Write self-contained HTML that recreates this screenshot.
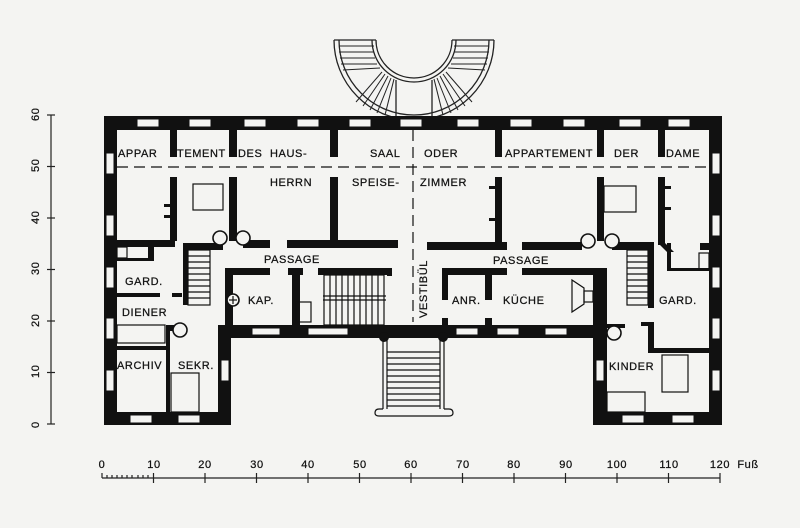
<!DOCTYPE html>
<html><head><meta charset="utf-8"><style>
html,body{margin:0;padding:0;background:#f4f4f2;}
svg{display:block;}
text{font-family:"Liberation Sans",sans-serif;font-size:11px;fill:#111;letter-spacing:0.6px;stroke:#111;stroke-width:0.25px;}
</style></head><body>
<svg width="800" height="528" viewBox="0 0 800 528" xmlns="http://www.w3.org/2000/svg">
<rect width="800" height="528" fill="#f4f4f2"/>
<g stroke="#222" stroke-width="1.2">
<line x1="51" y1="115" x2="51" y2="424"/>
<line x1="47" y1="115" x2="55" y2="115"/><line x1="47" y1="166.5" x2="55" y2="166.5"/><line x1="47" y1="218" x2="55" y2="218"/>
<line x1="47" y1="269.5" x2="55" y2="269.5"/><line x1="47" y1="321" x2="55" y2="321"/><line x1="47" y1="372.5" x2="55" y2="372.5"/><line x1="47" y1="424" x2="55" y2="424"/>
</g>
<g font-size="11">
<text transform="translate(39,121) rotate(-90)">60</text>
<text transform="translate(39,172) rotate(-90)">50</text>
<text transform="translate(39,224) rotate(-90)">40</text>
<text transform="translate(39,275) rotate(-90)">30</text>
<text transform="translate(39,327) rotate(-90)">20</text>
<text transform="translate(39,378) rotate(-90)">10</text>
<text transform="translate(39,428) rotate(-90)">0</text>
</g>
<g stroke="#222" stroke-width="1.2">
<line x1="102" y1="478" x2="720" y2="478"/>
<line x1="102" y1="473" x2="102" y2="478"/>
<line x1="107" y1="475" x2="107" y2="478"/><line x1="112" y1="475" x2="112" y2="478"/><line x1="117" y1="475" x2="117" y2="478"/><line x1="122" y1="475" x2="122" y2="478"/><line x1="127" y1="475" x2="127" y2="478"/><line x1="132" y1="475" x2="132" y2="478"/><line x1="138" y1="475" x2="138" y2="478"/><line x1="143" y1="475" x2="143" y2="478"/><line x1="148" y1="475" x2="148" y2="478"/>
<line x1="153.5" y1="473" x2="153.5" y2="483"/><line x1="205" y1="473" x2="205" y2="483"/><line x1="256.5" y1="473" x2="256.5" y2="483"/><line x1="308" y1="473" x2="308" y2="483"/><line x1="359.5" y1="473" x2="359.5" y2="483"/><line x1="411" y1="473" x2="411" y2="483"/><line x1="462.5" y1="473" x2="462.5" y2="483"/><line x1="514" y1="473" x2="514" y2="483"/><line x1="565.5" y1="473" x2="565.5" y2="483"/><line x1="617" y1="473" x2="617" y2="483"/><line x1="668.5" y1="473" x2="668.5" y2="483"/><line x1="720" y1="473" x2="720" y2="483"/>
</g>
<g font-size="11" text-anchor="middle">
<text x="102" y="468">0</text><text x="154" y="468">10</text><text x="205" y="468">20</text><text x="257" y="468">30</text><text x="308" y="468">40</text><text x="360" y="468">50</text><text x="411" y="468">60</text><text x="463" y="468">70</text><text x="514" y="468">80</text><text x="566" y="468">90</text><text x="617" y="468">100</text><text x="669" y="468">110</text><text x="720" y="468">120</text>
<text x="748" y="468">Fuß</text>
</g>
<g fill="none" stroke="#222" stroke-width="1.3">
<path d="M334 40 A80 80 0 0 0 494 40"/>
<path d="M339 40 A75 75 0 0 0 489 40"/>
<path d="M376 40 A38 38 0 0 0 452 40"/>
<path d="M372 40 A42 42 0 0 0 456 40"/>
<line x1="334" y1="40" x2="376" y2="40"/><line x1="452" y1="40" x2="494" y2="40"/>
<line x1="396" y1="80" x2="396" y2="116"/><line x1="432" y1="80" x2="432" y2="116"/>
<g stroke-width="1">
<line x1="339" y1="46" x2="374" y2="46"/><line x1="339" y1="52" x2="374" y2="52"/><line x1="340" y1="58" x2="375" y2="58"/><line x1="341" y1="64" x2="377" y2="64"/><line x1="343" y1="70" x2="380" y2="68"/>
<line x1="454" y1="46" x2="489" y2="46"/><line x1="454" y1="52" x2="489" y2="52"/><line x1="453" y1="58" x2="488" y2="58"/><line x1="451" y1="64" x2="487" y2="64"/><line x1="448" y1="68" x2="485" y2="70"/>
<line x1="382" y1="72" x2="356" y2="102"/><line x1="385" y1="74" x2="363" y2="106"/><line x1="388" y1="76" x2="370" y2="110"/><line x1="391" y1="78" x2="377" y2="113"/><line x1="394" y1="79" x2="385" y2="115"/>
<line x1="446" y1="72" x2="472" y2="102"/><line x1="443" y1="74" x2="465" y2="106"/><line x1="440" y1="76" x2="458" y2="110"/><line x1="437" y1="78" x2="451" y2="113"/><line x1="434" y1="79" x2="443" y2="115"/>
</g></g>
<g fill="#111">
<rect x="104" y="116" width="618" height="14"/>
<rect x="104" y="116" width="13" height="309"/>
<rect x="709" y="116" width="13" height="309"/>
<rect x="104" y="412" width="127" height="13"/>
<rect x="593" y="412" width="129" height="13"/>
<rect x="218" y="325" width="13" height="100"/>
<rect x="593" y="268" width="14" height="157"/>
<rect x="218" y="325" width="389" height="13"/>
</g>
<g fill="#f4f4f2" stroke="#111" stroke-width="1">
<rect x="137" y="119" width="22" height="8"/><rect x="189" y="119" width="22" height="8"/><rect x="244" y="119" width="22" height="8"/><rect x="297" y="119" width="22" height="8"/><rect x="349" y="119" width="22" height="8"/><rect x="400" y="119" width="22" height="8"/><rect x="457" y="119" width="22" height="8"/><rect x="510" y="119" width="22" height="8"/><rect x="563" y="119" width="22" height="8"/><rect x="619" y="119" width="22" height="8"/><rect x="668" y="119" width="22" height="8"/>
<rect x="106" y="153" width="8" height="21"/><rect x="106" y="215" width="8" height="21"/><rect x="106" y="267" width="8" height="21"/><rect x="106" y="318" width="8" height="21"/><rect x="106" y="370" width="8" height="21"/>
<rect x="712" y="153" width="8" height="21"/><rect x="712" y="215" width="8" height="21"/><rect x="712" y="267" width="8" height="21"/><rect x="712" y="318" width="8" height="21"/><rect x="712" y="370" width="8" height="21"/>
<rect x="221" y="360" width="8" height="21"/><rect x="130" y="415" width="22" height="8"/><rect x="178" y="415" width="22" height="8"/>
<rect x="596" y="360" width="8" height="21"/><rect x="622" y="415" width="22" height="8"/><rect x="672" y="415" width="22" height="8"/>
<rect x="252" y="328" width="28" height="7"/><rect x="308" y="328" width="40" height="7"/><rect x="456" y="328" width="22" height="7"/><rect x="497" y="328" width="22" height="7"/><rect x="545" y="328" width="22" height="7"/>
</g>
<g fill="#111">
<rect x="170" y="130" width="7" height="27"/><rect x="170" y="177" width="7" height="64"/>
<rect x="229" y="130" width="8" height="27"/><rect x="229" y="177" width="8" height="64"/>
<rect x="330" y="130" width="8" height="27"/><rect x="330" y="177" width="8" height="68"/>
<rect x="495" y="130" width="7" height="27"/><rect x="495" y="177" width="7" height="68"/>
<rect x="597" y="130" width="7" height="27"/><rect x="597" y="177" width="7" height="64"/>
<rect x="658" y="130" width="7" height="27"/><rect x="658" y="177" width="7" height="66"/>
<rect x="117" y="240" width="58" height="7"/>
<rect x="148" y="240" width="6" height="20"/><rect x="117" y="258" width="37" height="3"/>
<rect x="188" y="243" width="35" height="7"/>
<rect x="183" y="243" width="5" height="62"/>
<rect x="243" y="240" width="27" height="8"/>
<rect x="287" y="240" width="111" height="8"/>
<rect x="225" y="268" width="45" height="7"/>
<rect x="225" y="268" width="8" height="62"/>
<rect x="288" y="268" width="15" height="7"/><rect x="292" y="268" width="8" height="58"/>
<rect x="318" y="268" width="69" height="7"/>
<rect x="117" y="293" width="43" height="4"/><rect x="172" y="293" width="10" height="4"/>
<rect x="117" y="346" width="52" height="4"/><rect x="166" y="325" width="4" height="87"/>
<rect x="168" y="325" width="6" height="6"/>
<rect x="427" y="242" width="80" height="8"/><rect x="522" y="242" width="60" height="8"/>
<rect x="612" y="242" width="38" height="8"/><rect x="648" y="242" width="6" height="66"/>
<rect x="442" y="268" width="65" height="7"/><rect x="522" y="268" width="85" height="7"/>
<rect x="442" y="268" width="6" height="32"/><rect x="485" y="268" width="7" height="32"/>
<rect x="442" y="318" width="6" height="10"/><rect x="485" y="318" width="7" height="10"/>
<rect x="658" y="237" width="7" height="8"/><path d="M658 243 L665 243 L674 252 L667 252 Z"/>
<rect x="667" y="243" width="4" height="28"/><rect x="667" y="268" width="42" height="3"/>
<rect x="700" y="243" width="9" height="7"/>
<rect x="648" y="322" width="6" height="31"/><rect x="648" y="348" width="61" height="5"/>
<rect x="641" y="322" width="10" height="4"/>
<rect x="607" y="324" width="18" height="4"/>
<rect x="389" y="240" width="9" height="8"/>
<rect x="387" y="268" width="5" height="8"/>
<rect x="164" y="204" width="6" height="3"/><rect x="164" y="215" width="6" height="3"/>
<rect x="489" y="186" width="6" height="3"/><rect x="489" y="218" width="6" height="3"/>
<rect x="665" y="186" width="6" height="3"/><rect x="665" y="207" width="6" height="3"/>
<circle cx="384" cy="337" r="5"/><circle cx="443" cy="337" r="5"/>
</g>
<g fill="#f4f4f2" stroke="#111" stroke-width="1.6">
<circle cx="220" cy="238" r="7"/><circle cx="243" cy="238" r="7"/>
<circle cx="588" cy="241" r="7"/><circle cx="612" cy="241" r="7"/>
<circle cx="180" cy="330" r="7"/><circle cx="614" cy="333" r="7"/>
<circle cx="233" cy="300" r="6"/>
</g>
<g fill="none" stroke="#111" stroke-width="1.2">
<line x1="117" y1="167" x2="706" y2="167" stroke-dasharray="11 6"/>
<line x1="413" y1="130" x2="413" y2="322" stroke-dasharray="11 6"/>
<rect x="193" y="184" width="30" height="26"/>
<rect x="604" y="186" width="32" height="26"/>
<rect x="117" y="325" width="48" height="18"/>
<rect x="171" y="373" width="28" height="39"/>
<rect x="662" y="355" width="26" height="37"/>
<rect x="607" y="392" width="38" height="20"/>
<rect x="117" y="247" width="10" height="11"/>
<rect x="699" y="253" width="10" height="17"/>
<rect x="296" y="302" width="15" height="20"/>
<rect x="188" y="250" width="22" height="55"/>
<line x1="188" y1="256" x2="210" y2="256"/><line x1="188" y1="262" x2="210" y2="262"/><line x1="188" y1="268" x2="210" y2="268"/><line x1="188" y1="274" x2="210" y2="274"/><line x1="188" y1="280" x2="210" y2="280"/><line x1="188" y1="286" x2="210" y2="286"/><line x1="188" y1="292" x2="210" y2="292"/><line x1="188" y1="298" x2="210" y2="298"/>
<rect x="627" y="250" width="21" height="55"/>
<line x1="627" y1="256" x2="648" y2="256"/><line x1="627" y1="262" x2="648" y2="262"/><line x1="627" y1="268" x2="648" y2="268"/><line x1="627" y1="274" x2="648" y2="274"/><line x1="627" y1="280" x2="648" y2="280"/><line x1="627" y1="286" x2="648" y2="286"/><line x1="627" y1="292" x2="648" y2="292"/><line x1="627" y1="298" x2="648" y2="298"/>
<rect x="324" y="275" width="60" height="50"/>
<line x1="323" y1="296" x2="386" y2="296"/><line x1="323" y1="300" x2="386" y2="300"/>
<line x1="330" y1="275" x2="330" y2="325"/><line x1="336" y1="275" x2="336" y2="325"/><line x1="342" y1="275" x2="342" y2="325"/><line x1="348" y1="275" x2="348" y2="325"/><line x1="354" y1="275" x2="354" y2="325"/><line x1="360" y1="275" x2="360" y2="325"/><line x1="366" y1="275" x2="366" y2="325"/><line x1="372" y1="275" x2="372" y2="325"/><line x1="378" y1="275" x2="378" y2="325"/>
<line x1="383" y1="340" x2="383" y2="409"/><line x1="387" y1="340" x2="387" y2="409"/>
<line x1="440" y1="340" x2="440" y2="409"/><line x1="444" y1="340" x2="444" y2="409"/>
<path d="M383 409 L379 409 Q375 409 375 413 Q375 416 379 416 L449 416 Q453 416 453 413 Q453 409 449 409 L444 409"/>
<line x1="387" y1="352" x2="440" y2="352"/><line x1="387" y1="358" x2="440" y2="358"/><line x1="387" y1="364" x2="440" y2="364"/><line x1="387" y1="370" x2="440" y2="370"/><line x1="387" y1="376" x2="440" y2="376"/><line x1="387" y1="382" x2="440" y2="382"/><line x1="387" y1="388" x2="440" y2="388"/><line x1="387" y1="394" x2="440" y2="394"/><line x1="387" y1="400" x2="440" y2="400"/><line x1="387" y1="406" x2="440" y2="406"/>
<path d="M572 280 L584 288 L584 304 L572 312 Z"/><rect x="584" y="291" width="9" height="11"/>
<line x1="229" y1="300" x2="237" y2="300"/><line x1="233" y1="296" x2="233" y2="304"/>
</g>
<g>
<text x="118" y="157">APPAR</text><text x="177" y="157">TEMENT</text><text x="238" y="157">DES</text><text x="270" y="157">HAUS-</text>
<text x="370" y="157">SAAL</text><text x="424" y="157">ODER</text><text x="505" y="157">APPARTEMENT</text><text x="614" y="157">DER</text><text x="666" y="157">DAME</text>
<text x="270" y="186">HERRN</text><text x="352" y="186">SPEISE-</text><text x="420" y="186">ZIMMER</text>
<text x="264" y="263">PASSAGE</text><text x="493" y="264">PASSAGE</text>
<text x="125" y="285">GARD.</text><text x="122" y="316">DIENER</text>
<text x="117" y="369">ARCHIV</text><text x="178" y="369">SEKR.</text>
<text x="248" y="304">KAP.</text><text x="452" y="304">ANR.</text><text x="503" y="304">KÜCHE</text>
<text x="659" y="304">GARD.</text><text x="609" y="370">KINDER</text>
<text transform="translate(427,318) rotate(-90)">VESTIBÜL</text>
</g>
</svg>
</body></html>
